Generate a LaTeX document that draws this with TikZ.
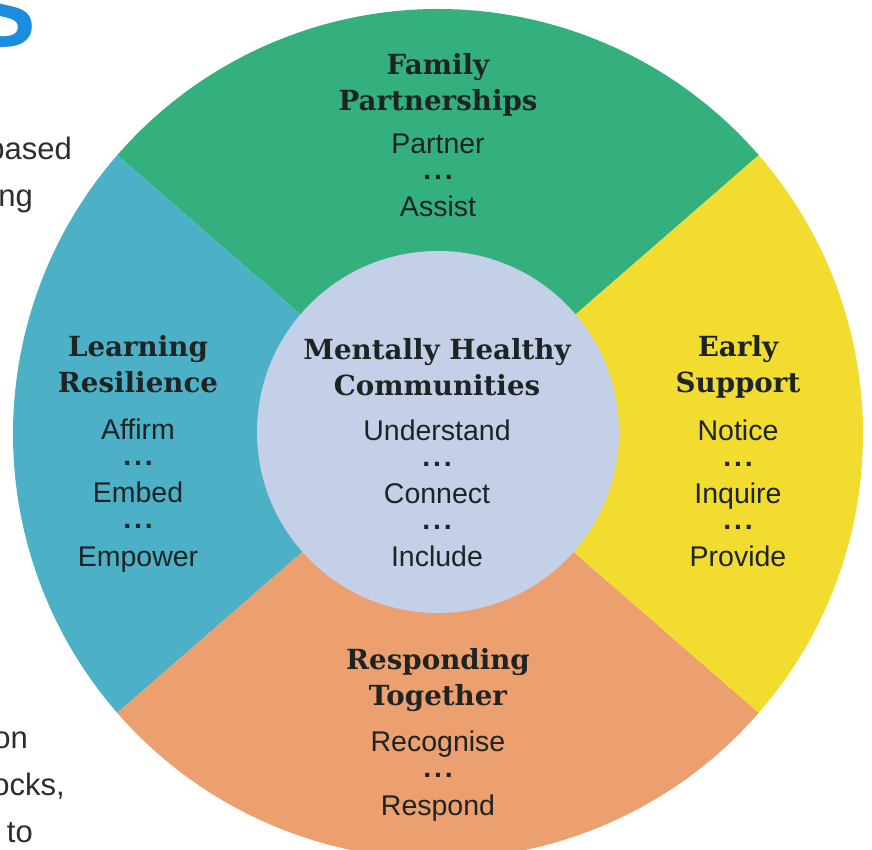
\documentclass[tikz,border=0pt]{standalone}
\usepackage{fontspec}
\setmainfont{Liberation Sans}
\newfontfamily\headfont{DejaVu Serif}
\usepackage{tikz}

\definecolor{famgreen}{RGB}{52,176,127}
\definecolor{learnblue}{RGB}{76,176,198}
\definecolor{earlyyellow}{RGB}{242,220,48}
\definecolor{resporange}{RGB}{236,160,112}
\definecolor{hubblue}{RGB}{196,208,232}
\definecolor{ink}{RGB}{30,36,36}
\definecolor{pagegray}{RGB}{45,45,45}
\definecolor{titleblue}{RGB}{28,140,222}

\newcommand\ellip{\raisebox{6pt}{\textbf{.\kern2.8pt.\kern2.8pt.}}}

\begin{document}
\begin{tikzpicture}[x=1pt,y=1pt,
  head/.style={font=\headfont\bfseries\fontsize{27.7}{36}\selectfont,text=ink,
    align=center,anchor=base,inner sep=0pt},
  body/.style={font=\fontsize{28.5}{31.6}\selectfont,text=ink,
    align=center,anchor=base,inner sep=0pt},
  page/.style={font=\fontsize{31}{47}\selectfont,text=pagegray,
    anchor=base east,inner sep=0pt}]

  \useasboundingbox (-438,-416) rectangle (434,434);
  \clip (-438,-416) rectangle (434,434);

  % the four sectors and the hub
  \fill[famgreen] (0,0) -- (41:425) arc[start angle=41,end angle=139,radius=425] -- cycle;
  \fill[learnblue] (0,0) -- (139:425) arc[start angle=139,end angle=221,radius=425] -- cycle;
  \fill[resporange] (0,0) -- (221:425) arc[start angle=221,end angle=319,radius=425] -- cycle;
  \fill[earlyyellow] (0,0) -- (319:425) arc[start angle=319,end angle=401,radius=425] -- cycle;
  \fill[hubblue] (0,2) circle[radius=181];

  % base anchor sits on the last line
  \node[head] (famhead) at (0,323) {Family\\Partnerships};
  \node[body] (fambody) at (0,217) {Partner\\\ellip\\Assist};

  \node[head] (hubhead) at (-1,38) {Mentally Healthy\\Communities};
  \node[body] (hubbody) at (-1,-133) {Understand\\\ellip\\Connect\\\ellip\\Include};

  \node[head] (learnhead) at (-300,41) {Learning\\Resilience};
  \node[body] (learnbody) at (-300,-132) {Affirm\\\ellip\\Embed\\\ellip\\Empower};

  \node[head] (earlyhead) at (300,41) {Early\\Support};
  \node[body] (earlybody) at (300,-133) {Notice\\\ellip\\Inquire\\\ellip\\Provide};

  \node[head] (resphead) at (0,-271) {Responding\\Together};
  \node[body] (respbody) at (0,-381) {Recognise\\\ellip\\Respond};

  % cut-off page text at the left edge
  \node[font=\bfseries\fontsize{100}{100}\selectfont,text=titleblue,
    anchor=base east,inner sep=0pt] (title) at (-402,387) {S};
  \node[page] (pg1) at (-366,274) {based};
  \node[page] (pg2) at (-405,227) {ng};
  \node[page] (pg3) at (-410,-314) {on};
  \node[page] (pg4) at (-373,-361) {ocks,};
  \node[page] (pg5) at (-405,-408) {to};
\end{tikzpicture}
\end{document}
